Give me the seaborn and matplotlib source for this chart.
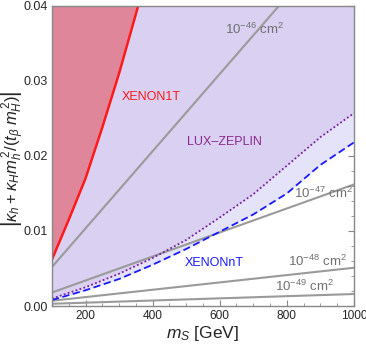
import matplotlib
matplotlib.use('Agg')
from matplotlib import pyplot as plt
from matplotlib.ticker import MultipleLocator, FixedLocator
import seaborn as sns

# Limit curves (m_S in GeV)
mass = [100, 200, 300, 400, 500, 600, 700, 800, 900, 1000]
lz = [0.0010, 0.0025, 0.0043, 0.0064, 0.0088, 0.0118, 0.0149, 0.0187, 0.0225, 0.0257]
xenon_nt = [0.0008, 0.0021, 0.0036, 0.0055, 0.0076, 0.0099, 0.0122, 0.0150, 0.0188, 0.0218]

mass_1t = [100, 150, 200, 250, 300, 357, 380]
xenon_1t = [0.0062, 0.0115, 0.0170, 0.0238, 0.0310, 0.0400, 0.0433]

# Cross-section contours, straight lines given by their end points
sigma_mass = [100, 1000]
sigma_46 = [0.0052, 0.0515]
sigma_47 = [0.0018, 0.0162]
sigma_48 = [0.0007, 0.0051]
sigma_49 = [0.0003, 0.0016]

y_top = 0.04

sns.set_style('ticks')
plt.rcParams['font.family'] = ['Liberation Sans', 'DejaVu Sans']
plt.rcParams['mathtext.fontset'] = 'custom'
plt.rcParams['mathtext.rm'] = 'Liberation Sans'
plt.rcParams['mathtext.it'] = 'Liberation Sans:italic'

fig = plt.figure(figsize=(3.66, 3.45), dpi=100)
ax = fig.add_axes([0.142, 0.113, 0.825, 0.870])

# shaded regions
ax.fill_between(mass, lz, y_top, color='#d9d0f2', lw=0)
ax.fill_between(mass, xenon_nt, lz, color='#e4e3fa', lw=0)
ax.fill_between(mass_1t, xenon_1t, y_top, color='#e0869b', lw=0)

# cross-section lines
for vals in [sigma_46, sigma_47, sigma_48, sigma_49]:
    sns.lineplot(x=sigma_mass, y=vals, ax=ax, color='#9a9a9a', lw=1.5)

sns.lineplot(x=mass, y=lz, ax=ax, color='#7a1f9c', lw=1.3, linestyle=(0, (1, 1.3)))
sns.lineplot(x=mass, y=xenon_nt, ax=ax, color='#1a1aff', lw=1.3, linestyle=(0, (4, 2)))
sns.lineplot(x=mass_1t, y=xenon_1t, ax=ax, color='#ff1a1a', lw=1.8)

# labels
ax.text(395, 0.0279, 'XENON1T', color='#ff1a1a', fontsize=9, ha='center', va='center')
ax.text(615, 0.0219, 'LUX\u2013ZEPLIN', color='#8b2a8b', fontsize=9, ha='center', va='center')
ax.text(583, 0.0057, 'XENONnT', color='#1a1aff', fontsize=9, ha='center', va='center')
g = '#707070'
ax.text(705, 0.0368, r'$10^{-46}$ cm$^2$', color=g, fontsize=9.5, ha='center', va='center')
ax.text(910, 0.0150, r'$10^{-47}$ cm$^2$', color=g, fontsize=9.5, ha='center', va='center')
ax.text(891, 0.0059, r'$10^{-48}$ cm$^2$', color=g, fontsize=9.5, ha='center', va='center')
ax.text(854, 0.0026, r'$10^{-49}$ cm$^2$', color=g, fontsize=9.5, ha='center', va='center')

ax.set_xlim(100, 1000)
ax.set_ylim(0, y_top)
ax.xaxis.set_major_locator(FixedLocator([200, 400, 600, 800, 1000]))
ax.xaxis.set_minor_locator(MultipleLocator(50))
ax.yaxis.set_major_locator(MultipleLocator(0.01))
ax.yaxis.set_minor_locator(MultipleLocator(0.002))
ax.yaxis.set_major_formatter(matplotlib.ticker.FormatStrFormatter('%.2f'))

for s in ax.spines.values():
    s.set_visible(True)
    s.set_color('#888888')
    s.set_linewidth(1.0)
ax.tick_params(which='both', direction='in', top=True, right=True,
               color='#888888', labelsize=9, pad=3)
ax.tick_params(axis='x', labelsize=8.6)
ax.tick_params(which='major', length=4, width=0.8)
ax.tick_params(which='minor', length=2, width=0.6)

ax.set_xlabel(r'$m_S$ [GeV]', fontsize=12.5, labelpad=1)
ax.set_ylabel(r'$\left|\kappa_h + \kappa_H m_h^{\,2}/(t_\beta\; m_H^{\,2})\right|$',
              fontsize=12)
ax.yaxis.set_label_coords(-0.087, 0.49)

plt.savefig('out.png', dpi=100)
